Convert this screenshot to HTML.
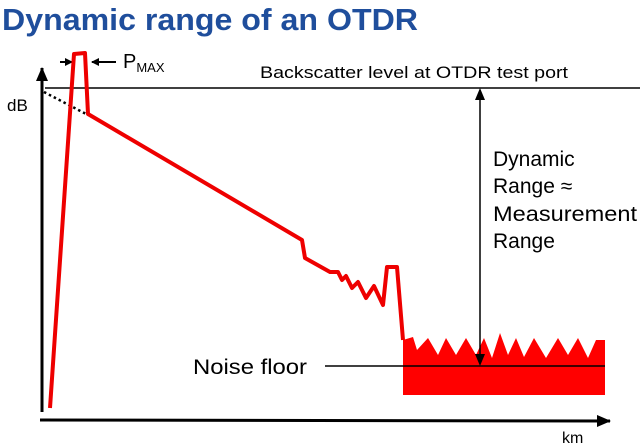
<!DOCTYPE html>
<html><head><style>body{margin:0;background:#fff}svg{display:block}</style></head><body>
<svg width="640" height="444" viewBox="0 0 640 444" xmlns="http://www.w3.org/2000/svg" font-family="Liberation Sans, sans-serif">
<text x="2" y="30" font-size="31" font-weight="bold" fill="#1f4e9c" textLength="416" lengthAdjust="spacingAndGlyphs">Dynamic range of an OTDR</text>
<defs><marker id="a" markerWidth="8" markerHeight="8" refX="7" refY="4" orient="auto" markerUnits="userSpaceOnUse"><path d="M0,0L8,4L0,8z" fill="#000"/></marker>
<marker id="b" markerWidth="14" markerHeight="12" refX="13" refY="6" orient="auto" markerUnits="userSpaceOnUse"><path d="M0,0L14,6L0,12z" fill="#000"/></marker></defs>
<line x1="42" y1="412" x2="42" y2="68" stroke="#000" stroke-width="3" marker-end="url(#b)"/>
<line x1="40" y1="420" x2="610" y2="421" stroke="#000" stroke-width="3" marker-end="url(#b)"/>
<text x="7" y="111" font-size="17">dB</text>
<text x="562" y="443" font-size="16">km</text>
<line x1="45" y1="88" x2="640" y2="88" stroke="#000" stroke-width="1.5"/>
<line x1="44" y1="92" x2="88" y2="115" stroke="#000" stroke-width="2.5" stroke-dasharray="2.5,3"/>
<text x="260" y="78" font-size="17" textLength="308" lengthAdjust="spacingAndGlyphs">Backscatter level at OTDR test port</text>
<text x="123" y="68" font-size="20">P<tspan font-size="13" dy="4">MAX</tspan></text>
<line x1="60" y1="62" x2="72" y2="62" stroke="#000" stroke-width="2" marker-end="url(#a)"/>
<line x1="116" y1="62" x2="92" y2="62" stroke="#000" stroke-width="2" marker-end="url(#a)"/>
<polyline fill="none" stroke="#e00" stroke-width="4" stroke-linejoin="round" points="50,408 74,54 85,53 88,114 302,240 305,258 330,272 338,272 342,280 346,276 352,288 358,282 366,298 374,286 383,305 387,267 397,267 403,340"/>
<path fill="#f00" d="M403,340 L413,337 L417,350 L428,338 L438,355 L446,338 L456,355 L466,338 L476,355 L484,338 L492,358 L500,333 L508,355 L516,338 L524,357 L534,338 L546,358 L558,338 L568,355 L578,338 L588,358 L596,340 L605,340 L605,395 L403,395 Z"/>
<line x1="325" y1="366" x2="605" y2="366" stroke="#000" stroke-width="1.5"/>
<text x="193" y="374" font-size="21" textLength="114" lengthAdjust="spacingAndGlyphs">Noise floor</text>
<line x1="480" y1="100" x2="480" y2="354" stroke="#000" stroke-width="1.5"/>
<path d="M480,88L475,100L485,100z M480,366L475,354L485,354z" fill="#000"/>
<g font-size="21"><text x="493" y="166">Dynamic</text><text x="493" y="193">Range ≈</text><text x="493" y="221" textLength="144" lengthAdjust="spacingAndGlyphs">Measurement</text><text x="493" y="248">Range</text></g>
</svg>
</body></html>
